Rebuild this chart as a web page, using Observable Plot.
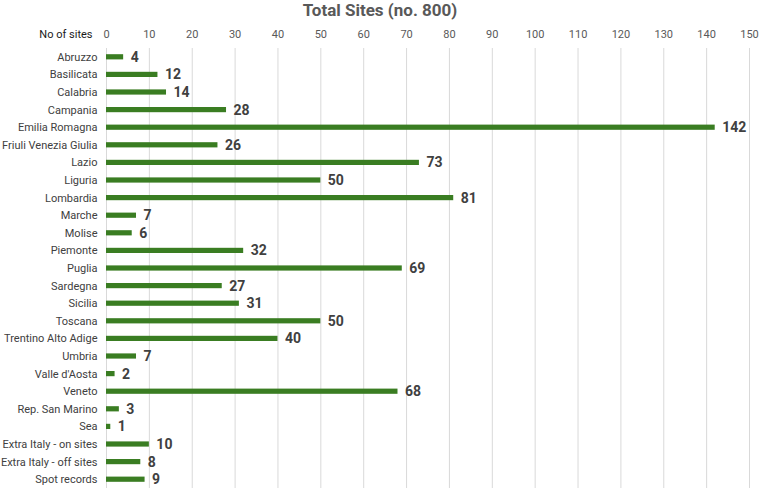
<!DOCTYPE html>
<html>
<head>
<meta charset="utf-8">
<script src="https://cdn.jsdelivr.net/npm/d3@7"></script>
<script src="https://cdn.jsdelivr.net/npm/@observablehq/plot@0.6"></script>
<style>
  body { margin: 0; background: #fff; font-family: Roboto, "Noto Sans", sans-serif; }
  #title { width: 760px; height: 20px; line-height: 20px; text-align: center; font-weight: bold; font-size: 17px; color: #595959; }
</style>
</head>
<body>
<div id="title">Total Sites (no. 800)</div>
<div id="chart"></div>
<script>
const regions = ["Abruzzo","Basilicata","Calabria","Campania","Emilia Romagna","Friuli Venezia Giulia","Lazio","Liguria","Lombardia","Marche","Molise","Piemonte","Puglia","Sardegna","Sicilia","Toscana","Trentino Alto Adige","Umbria","Valle d'Aosta","Veneto","Rep. San Marino","Sea","Extra Italy - on sites","Extra Italy - off sites","Spot records"];
const sites = [4,12,14,28,142,26,73,50,81,7,6,32,69,27,31,50,40,7,2,68,3,1,10,8,9];
const xTicks = d3.range(0, 151, 10);
const axisTitle = "No of sites";

const data = regions.map((r, i) => ({region: r, value: sites[i]}));

const chart = Plot.plot({
  width: 760,
  height: 469,
  marginLeft: 106,
  marginRight: 11,
  marginTop: 28,
  marginBottom: 1,
  style: {fontFamily: "Roboto, 'Noto Sans', sans-serif", fontSize: "11px", color: "#404040", background: "#fff"},
  x: {domain: [0, 150], ticks: xTicks, axis: null},
  y: {domain: regions, padding: 0, round: false, axis: null},
  marks: [
    Plot.ruleX(xTicks, {stroke: "#d9d9d9", strokeWidth: 1, strokeOpacity: 1}),
    Plot.axisX(xTicks, {anchor: "top", tickSize: 0, tickPadding: 0, dy: -11, label: null, fill: "#595959", fontSize: 11}),
    Plot.axisY({tickSize: 0, tickPadding: 9, label: null, fill: "#404040", fontSize: 11}),
    Plot.text([axisTitle], {x: () => 0, text: d => d, frameAnchor: "top", dy: -18, dx: -14, textAnchor: "end", fill: "#1a1a1a", fontSize: 11}),
    Plot.barX(data, {x: "value", y: "region", fill: "#3a7d22", insetTop: 6.2, insetBottom: 6.2}),
    Plot.text(data, {x: "value", y: "region", text: d => String(d.value), textAnchor: "start", dx: 7, fill: "#404040", fontWeight: "bold", fontSize: 14})
  ]
});
document.getElementById("chart").appendChild(chart);
</script>
</body>
</html>
